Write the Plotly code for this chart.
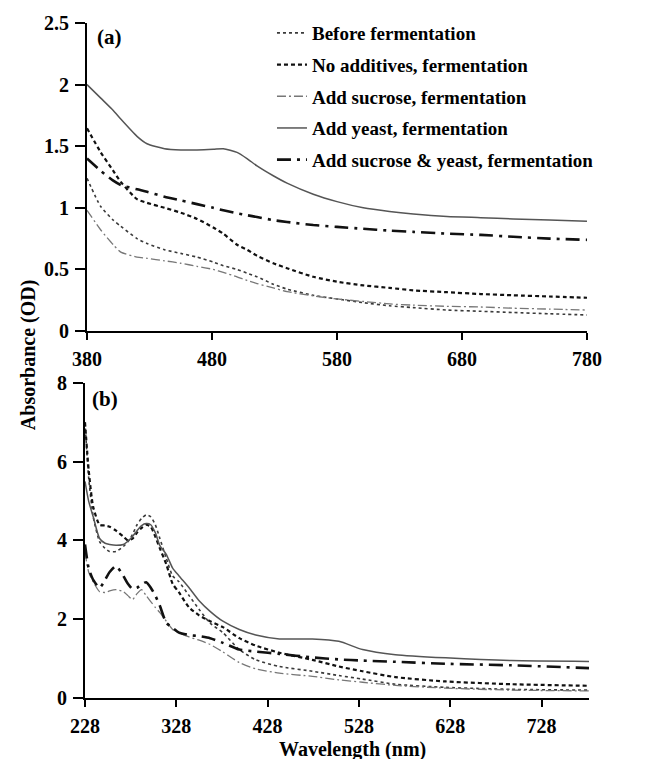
import plotly.graph_objects as go

# ---------------- data ----------------
series_names = [
    "Before fermentation",
    "No additives, fermentation",
    "Add sucrose, fermentation",
    "Add yeast, fermentation",
    "Add sucrose & yeast, fermentation",
]

# panel (a): visible region
wl_a = [380, 391, 401, 407, 420, 428, 442, 455, 468, 481, 489, 500, 508, 516,
        529, 540, 561, 580, 601, 622, 641, 668, 695, 721, 750, 780]
before_a = [1.24, 1.01, 0.90, 0.85, 0.75, 0.71, 0.66, 0.63, 0.60, 0.56, 0.53, 0.50, 0.47, 0.44,
            0.38, 0.34, 0.29, 0.26, 0.23, 0.205, 0.19, 0.17, 0.16, 0.15, 0.14, 0.13]
noadd_a = [1.645, 1.45, 1.30, 1.21, 1.07, 1.04, 1.00, 0.96, 0.91, 0.84, 0.79, 0.70, 0.66, 0.61,
           0.55, 0.51, 0.44, 0.40, 0.37, 0.35, 0.33, 0.315, 0.30, 0.29, 0.28, 0.27]
sucrose_a = [0.98, 0.82, 0.70, 0.64, 0.60, 0.59, 0.57, 0.55, 0.525, 0.50, 0.475, 0.44, 0.41, 0.385,
             0.35, 0.32, 0.285, 0.26, 0.24, 0.22, 0.21, 0.20, 0.195, 0.185, 0.178, 0.17]
yeast_a = [2.0, 1.89, 1.79, 1.72, 1.58, 1.52, 1.48, 1.47, 1.47, 1.475, 1.48, 1.45, 1.40, 1.34,
           1.26, 1.20, 1.11, 1.05, 1.00, 0.97, 0.95, 0.93, 0.92, 0.91, 0.90, 0.89]
sucyeast_a = [1.40, 1.30, 1.22, 1.185, 1.15, 1.13, 1.09, 1.06, 1.03, 1.00, 0.98, 0.955, 0.94, 0.925,
              0.90, 0.885, 0.86, 0.845, 0.83, 0.815, 0.805, 0.79, 0.78, 0.765, 0.75, 0.74]

# panel (b): UV-visible region
wl_b = [228, 232, 237, 244, 250, 255, 262, 270, 275, 280, 285, 290, 295, 300, 305, 310, 317,
        324, 331, 342, 353, 365, 379, 397, 415, 441, 477, 506, 532, 568, 623, 695, 780]
before_b = [7.0, 5.6, 4.6, 3.97, 3.8, 3.72, 3.72, 3.85, 3.97, 4.15, 4.4, 4.56, 4.65, 4.6, 4.4, 4.05, 3.55,
            3.1, 2.95, 2.6, 2.25, 1.9, 1.66, 1.23, 0.97, 0.80, 0.68, 0.57, 0.48, 0.35, 0.27, 0.22, 0.2]
noadd_b = [7.0, 5.8, 4.85, 4.4, 4.38, 4.35, 4.25, 4.1, 4.0, 4.05, 4.2, 4.32, 4.4, 4.35, 4.1, 3.8, 3.4,
           2.9, 2.68, 2.3, 2.1, 1.95, 1.8, 1.52, 1.33, 1.15, 0.97, 0.8, 0.68, 0.53, 0.42, 0.35, 0.31]
sucrose_b = [3.7, 3.2, 2.95, 2.7, 2.68, 2.72, 2.75, 2.7, 2.6, 2.5, 2.65, 2.75, 2.6, 2.45, 2.3, 2.17, 1.95,
             1.74, 1.65, 1.55, 1.47, 1.36, 1.17, 0.9, 0.74, 0.63, 0.55, 0.46, 0.40, 0.32, 0.25, 0.2, 0.18]
yeast_b = [5.5, 5.0, 4.6, 4.05, 3.93, 3.9, 3.88, 3.9, 3.98, 4.1, 4.25, 4.38, 4.43, 4.4, 4.2, 3.87, 3.65,
           3.3, 3.1, 2.8, 2.47, 2.2, 1.95, 1.74, 1.6, 1.5, 1.5, 1.44, 1.23, 1.10, 1.02, 0.95, 0.93]
sucyeast_b = [3.9, 3.3, 3.0, 2.8, 3.0, 3.2, 3.35, 3.1, 2.9, 2.77, 2.8, 2.88, 2.94, 2.8, 2.6, 2.34, 1.91,
              1.78, 1.66, 1.6, 1.57, 1.52, 1.4, 1.23, 1.18, 1.12, 1.03, 0.98, 0.95, 0.92, 0.87, 0.83, 0.76]

xticks_a = [380, 480, 580, 680, 780]
yticks_a = [0, 0.5, 1, 1.5, 2, 2.5]
ytick_text_a = ["0", "0.5", "1", "1.5", "2", "2.5"]
xticks_b = [228, 328, 428, 528, 628, 728]
yticks_b = [0, 2, 4, 6, 8]

# ---------------- styles ----------------
styles = [
    dict(color="#3a3a3a", width=1.6, dash="dot"),
    dict(color="#111111", width=2.2, dash="4px,3px"),
    dict(color="#777777", width=1.3, dash="9px,3px,2px,3px"),
    dict(color="#555555", width=1.5, dash="solid"),
    dict(color="#111111", width=2.6, dash="14px,6px,3px,6px"),
]

FONT = "Liberation Serif, Times New Roman, serif"

fig = go.Figure()
data_a = [before_a, noadd_a, sucrose_a, yeast_a, sucyeast_a]
data_b = [before_b, noadd_b, sucrose_b, yeast_b, sucyeast_b]

for i, (name, ya) in enumerate(zip(series_names, data_a)):
    fig.add_trace(go.Scatter(x=wl_a, y=ya, mode="lines", name=name,
                             line=dict(**styles[i], shape="spline", smoothing=0.6),
                             xaxis="x", yaxis="y", legendgroup=f"g{i}", showlegend=True))
for i, (name, yb) in enumerate(zip(series_names, data_b)):
    fig.add_trace(go.Scatter(x=wl_b, y=yb, mode="lines", name=name,
                             line=dict(**styles[i], shape="spline", smoothing=0.6),
                             xaxis="x2", yaxis="y2", legendgroup=f"g{i}", showlegend=False))

tickfont = dict(family=FONT, size=20, color="black", weight="bold")
common = dict(showline=True, linecolor="black", linewidth=2, ticks="outside",
              tickwidth=2, tickcolor="black", showgrid=False, zeroline=False,
              tickfont=tickfont, automargin=False)
xcommon = dict(common, ticklen=7, ticklabelstandoff=2)
ycommon = dict(common, ticklen=10, ticklabelstandoff=2)

fig.update_layout(
    width=637, height=751,
    margin=dict(l=77, r=56, t=15, b=61, autoexpand=False),
    plot_bgcolor="white", paper_bgcolor="white",
    xaxis=dict(domain=[0.004, 0.996], anchor="y", range=[380, 780], tickvals=xticks_a, **xcommon),
    yaxis=dict(domain=[0.5437, 1.0], anchor="x", range=[0, 2.5], tickvals=yticks_a,
               ticktext=ytick_text_a, **ycommon),
    xaxis2=dict(domain=[0.0, 1.0], anchor="y2", range=[228, 780], tickvals=xticks_b, **xcommon),
    yaxis2=dict(domain=[0.0, 0.4667], anchor="x2", range=[0, 8], tickvals=yticks_b, **ycommon),
    showlegend=True,
    legend=dict(x=0.371, y=0.992, xref="paper", yref="container", xanchor="left", yanchor="top",
                bgcolor="rgba(0,0,0,0)",
                font=dict(family=FONT, size=19, color="black", weight="bold"),
                itemwidth=30, tracegroupgap=4, traceorder="grouped"),
    annotations=[
        dict(text="(a)", x=0.02, y=0.98, xref="paper", yref="paper", xanchor="left", yanchor="middle",
             showarrow=False, font=dict(family=FONT, size=21, color="black", weight="bold")),
        dict(text="(b)", x=0.01, y=0.443, xref="paper", yref="paper", xanchor="left", yanchor="middle",
             showarrow=False, font=dict(family=FONT, size=21, color="black", weight="bold")),
        dict(text="Absorbance (OD)", x=-0.113, y=0.508, xref="paper", yref="paper", textangle=-90,
             xanchor="center", yanchor="middle", showarrow=False,
             font=dict(family=FONT, size=20, color="black", weight="bold")),
        dict(text="Wavelength (nm)", x=0.53, y=-0.077, xref="paper", yref="paper",
             xanchor="center", yanchor="middle", showarrow=False,
             font=dict(family=FONT, size=20, color="black", weight="bold")),
    ],
)

fig.write_html("out.html")
